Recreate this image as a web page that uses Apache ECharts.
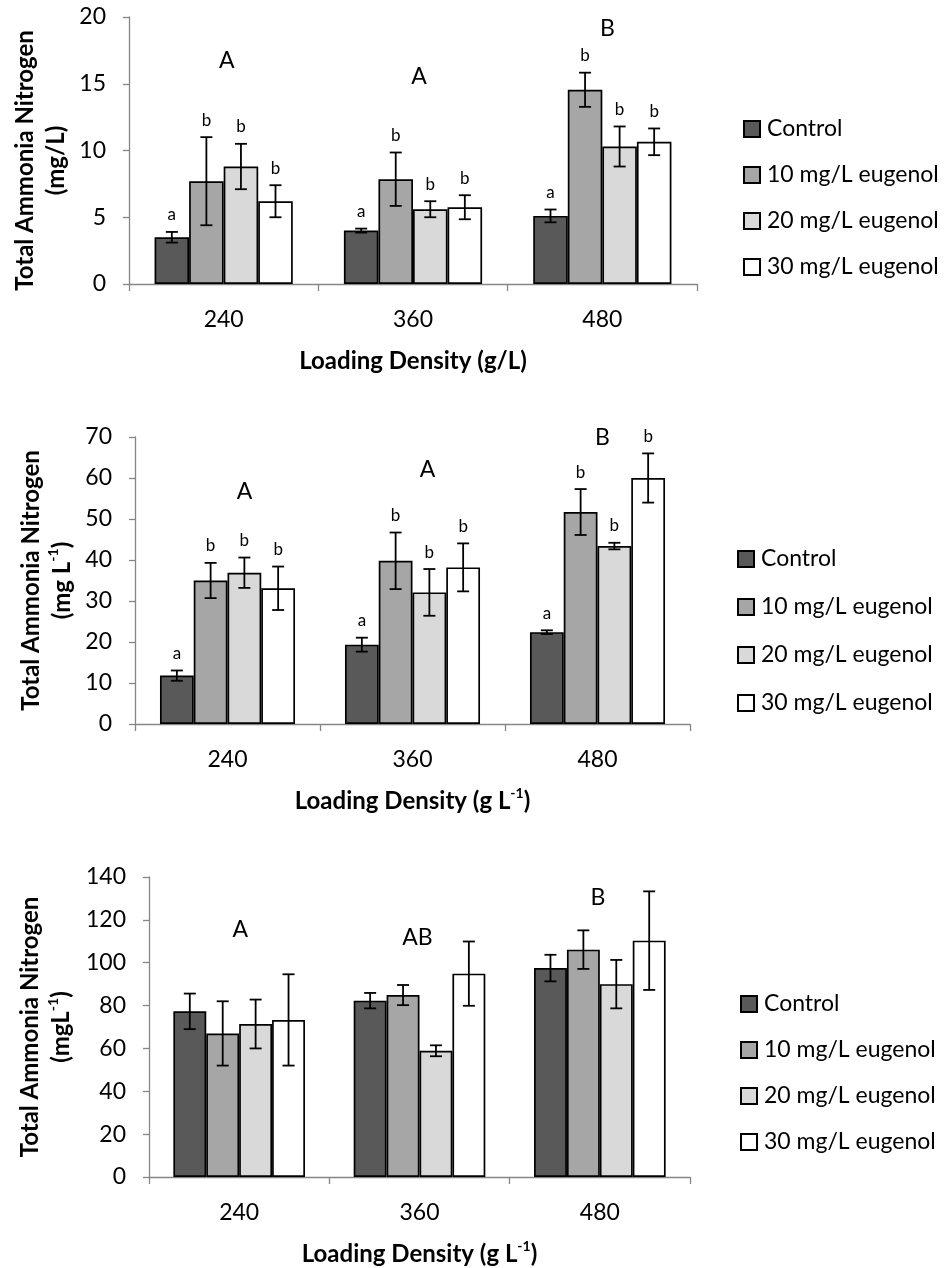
<!DOCTYPE html>
<html>
<head>
<meta charset="utf-8">
<script src="https://cdn.jsdelivr.net/npm/echarts@6/dist/echarts.min.js"></script>
<style>
html,body{margin:0;padding:0;background:#fff;}
#chart{width:945px;height:1268px;}
</style>
</head>
<body>
<div id="chart"></div>
<script>
// ---------- data ----------
const categories = ['240', '360', '480'];
const seriesNames = ['Control', '10 mg/L eugenol', '20 mg/L eugenol', '30 mg/L eugenol'];

// Panel 1 (mg/L)
const p1Control = [3.5, 4.0, 5.1];
const p1ControlErr = [0.4, 0.15, 0.48];
const p1E10 = [7.7, 7.85, 14.55];
const p1E10Err = [3.3, 2.0, 1.28];
const p1E20 = [8.8, 5.6, 10.3];
const p1E20Err = [1.7, 0.6, 1.5];
const p1E30 = [6.2, 5.75, 10.65];
const p1E30Err = [1.2, 0.9, 1.0];
const p1Letters = [['a', 'a', 'a'], ['b', 'b', 'b'], ['b', 'b', 'b'], ['b', 'b', 'b']];
const p1Groups = ['A', 'A', 'B'];
const p1GroupHeights = [16.7, 15.5, 19.1];

// Panel 2 (mg L-1)
const p2Control = [11.8, 19.35, 22.4];
const p2ControlErr = [1.25, 1.7, 0.45];
const p2E10 = [35.0, 39.8, 51.7];
const p2E10Err = [4.3, 6.9, 5.6];
const p2E20 = [36.9, 32.1, 43.4];
const p2E20Err = [3.7, 5.7, 0.8];
const p2E30 = [33.1, 38.2, 60.0];
const p2E30Err = [5.3, 5.85, 6.0];
const p2Letters = [['a', 'a', 'a'], ['b', 'b', 'b'], ['b', 'b', 'b'], ['b', 'b', 'b']];
const p2Groups = ['A', 'A', 'B'];
const p2GroupHeights = [56.6, 62.0, 69.8];

// Panel 3 (mgL-1)
const p3Control = [77.3, 82.3, 97.5];
const p3ControlErr = [8.3, 3.6, 6.2];
const p3E10 = [67.0, 84.9, 106.1];
const p3E10Err = [15.0, 4.7, 9.0];
const p3E20 = [71.4, 58.9, 90.0];
const p3E20Err = [11.4, 2.55, 11.3];
const p3E30 = [73.3, 94.9, 110.3];
const p3E30Err = [21.3, 15.0, 23.0];
const p3Letters = [['', '', ''], ['', '', ''], ['', '', ''], ['', '', '']];
const p3Groups = ['A', 'AB', 'B'];
const p3GroupHeights = [115.4, 111.7, 130.4];

const yMax = [20, 70, 140];
const yInterval = [5, 10, 20];

// ---------- styles / layout ----------
const FONT = 'Lato';
const COLORS = ['#595959', '#a6a6a6', '#d9d9d9', '#ffffff'];
const GAP = 0.27;
const AXIS_COLOR = '#868686';

const panels = [
  {
    values: [p1Control, p1E10, p1E20, p1E30],
    errs: [p1ControlErr, p1E10Err, p1E20Err, p1E30Err],
    letters: p1Letters, groups: p1Groups, groupH: p1GroupHeights,
    grid: {left: 129, top: 17, width: 568, height: 267},
    yName: '{t|Total Ammonia Nitrogen}\n{t|(mg/L)}',
    xName: '{t|Loading Density (g/L)}',
    yNameGap: 56, yNamePad: [0, 20, 0, 0],
    legendTop: 111, legendLeft: 738, legendGap: 20,
    groupDx: [3, 6, 5]
  },
  {
    values: [p2Control, p2E10, p2E20, p2E30],
    errs: [p2ControlErr, p2E10Err, p2E20Err, p2E30Err],
    letters: p2Letters, groups: p2Groups, groupH: p2GroupHeights,
    grid: {left: 135, top: 437, width: 555, height: 287},
    yName: '{t|Total Ammonia Nitrogen}\n{t|(mg L}{s|-1}{t|)}',
    xName: '{t|Loading Density (g L}{s|-1}{t|)}',
    yNameGap: 57, yNamePad: [0, 0, 0, 0],
    legendTop: 541, legendLeft: 732, legendGap: 22,
    groupDx: [17, 15, 5]
  },
  {
    values: [p3Control, p3E10, p3E20, p3E30],
    errs: [p3ControlErr, p3E10Err, p3E20Err, p3E30Err],
    letters: p3Letters, groups: p3Groups, groupH: p3GroupHeights,
    grid: {left: 149, top: 877, width: 541, height: 300},
    yName: '{t|Total Ammonia Nitrogen}\n{t|(mgL}{s|-1}{t|)}',
    xName: '{t|Loading Density (g L}{s|-1}{t|)}',
    yNameGap: 72, yNamePad: [0, 0, 0, 0],
    legendTop: 986, legendLeft: 735, legendGap: 20,
    groupDx: [1, -2, -2]
  }
];

const richName = {
  t: {fontFamily: FONT, fontWeight: 'bold', fontSize: 24, color: '#000', lineHeight: 31},
  s: {fontFamily: FONT, fontWeight: 'bold', fontSize: 14, color: '#000', lineHeight: 31, verticalAlign: 'top'}
};

const grids = [], xAxes = [], yAxes = [], series = [], legends = [];

panels.forEach((p, pi) => {
  grids.push(Object.assign({containLabel: false}, p.grid));
  xAxes.push({
    type: 'category', gridIndex: pi, data: categories,
    axisLine: {lineStyle: {color: AXIS_COLOR, width: 1.3}},
    axisTick: {show: true, length: 7, lineStyle: {color: AXIS_COLOR, width: 1.3}},
    axisLabel: {fontFamily: FONT, fontSize: 23, color: '#000', margin: 24},
    name: p.xName, nameLocation: 'middle', nameGap: 62,
    nameTextStyle: {rich: richName}
  });
  yAxes.push({
    type: 'value', gridIndex: pi, min: 0, max: yMax[pi], interval: yInterval[pi],
    axisLine: {show: true, lineStyle: {color: AXIS_COLOR, width: 1.3}},
    axisTick: {show: true, length: 6, lineStyle: {color: AXIS_COLOR, width: 1.3}},
    splitLine: {show: false},
    axisLabel: {fontFamily: FONT, fontSize: 23, color: '#000', margin: 23},
    name: p.yName, nameLocation: 'middle', nameRotate: 90, nameGap: p.yNameGap,
    nameTextStyle: {rich: richName, padding: p.yNamePad}
  });
  legends.push({
    data: seriesNames, orient: 'vertical', left: p.legendLeft, top: p.legendTop,
    itemWidth: 16, itemHeight: 16, itemGap: p.legendGap, icon: 'rect',
    selectedMode: false,
    textStyle: {fontFamily: FONT, fontSize: 23, color: '#000', lineHeight: 26, padding: [0, 0, 0, 2]}
  });
  p.values.forEach((vals, si) => {
    series.push({
      type: 'bar', name: seriesNames[si], xAxisIndex: pi, yAxisIndex: pi,
      data: vals, barGap: '0%', barCategoryGap: (GAP * 100) + '%',
      itemStyle: {color: COLORS[si], borderColor: '#000', borderWidth: 1.7},
      emphasis: {disabled: true}, z: 2
    });
  });
  p.values.forEach((vals, si) => {
    const errs = p.errs[si];
    const labs = p.letters[si];
    series.push({
      type: 'custom', xAxisIndex: pi, yAxisIndex: pi, z: 5, silent: true,
      data: vals.map((v, ci) => [ci, v, errs[ci]]),
      encode: {x: 0, y: 1},
      renderItem: function (params, api) {
        const ci = api.value(0), v = api.value(1), e = api.value(2);
        const band = api.size([1, 0])[0];
        const bw = band * (1 - GAP) / 4;
        const cx = api.coord([ci, 0])[0] + (si - 1.5) * bw;
        const yTop = api.coord([ci, v + e])[1];
        const yBot = api.coord([ci, v - e])[1];
        const hw = 6;
        const ls = {stroke: '#000', lineWidth: 1.8};
        const children = [
          {type: 'line', shape: {x1: cx, y1: yTop, x2: cx, y2: yBot}, style: ls},
          {type: 'line', shape: {x1: cx - hw, y1: yTop, x2: cx + hw, y2: yTop}, style: ls},
          {type: 'line', shape: {x1: cx - hw, y1: yBot, x2: cx + hw, y2: yBot}, style: ls}
        ];
        const lab = labs[params.dataIndex];
        if (lab) {
          children.push({type: 'text', style: {text: lab, x: cx, y: yTop - 17, align: 'center', verticalAlign: 'middle',
            fontFamily: FONT, fontSize: 17, fill: '#000'}});
        }
        return {type: 'group', children: children};
      }
    });
  });
  series.push({
    type: 'custom', xAxisIndex: pi, yAxisIndex: pi, z: 6, silent: true,
    data: p.groupH.map((h, ci) => [ci, h]),
    encode: {x: 0, y: 1},
    renderItem: function (params, api) {
      const pt = api.coord([api.value(0), api.value(1)]);
      return {type: 'text', style: {text: p.groups[params.dataIndex], x: pt[0] + p.groupDx[params.dataIndex], y: pt[1],
        align: 'center', verticalAlign: 'middle', fontFamily: FONT, fontSize: 23, fill: '#000'}};
    }
  });
});

const chart = echarts.init(document.getElementById('chart'), null, {renderer: 'canvas'});
chart.setOption({
  animation: false,
  backgroundColor: '#fff',
  grid: grids, xAxis: xAxes, yAxis: yAxes, legend: legends, series: series
});
</script>
</body>
</html>
